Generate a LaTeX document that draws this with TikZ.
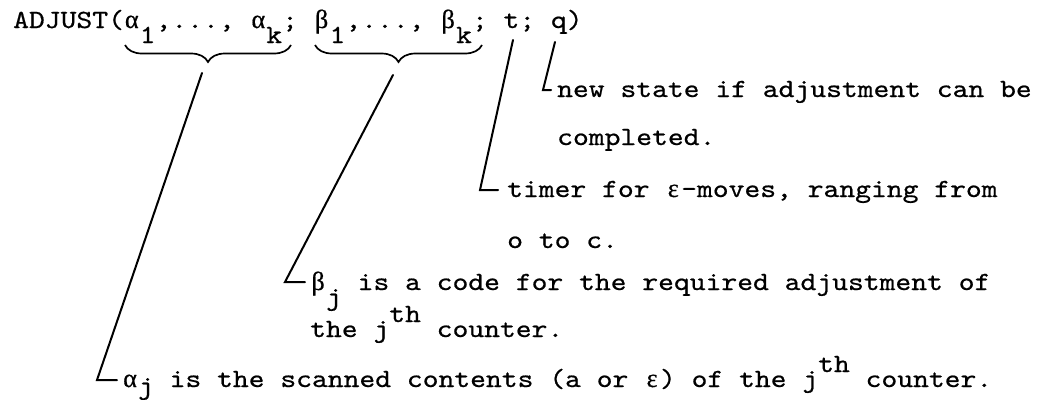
\documentclass[tikz,border=0pt]{standalone}
\usepackage{fontspec}
\setmonofont{lmmono10-regular}[Extension=.otf, FakeStretch=1.15, FakeBold=0.6]
\newfontfamily\grk{Liberation Serif}[FakeBold=0.6]
\usetikzlibrary{decorations.pathreplacing}
\newcommand\dn[1]{\raisebox{-15pt}{#1}}
\newcommand\up[1]{\raisebox{15pt}{#1}}
\newcommand\gk[1]{\makebox[\fontcharwd\font`x][c]{\grk #1}}
\frenchspacing
\tikzset{
  txt/.style={anchor=base west, inner sep=0pt, font=\ttfamily\fontsize{26.2}{30}\selectfont},
  conn/.style={line width=2pt, line cap=round, line join=miter},
  brc/.style={line width=1.7pt, decorate, decoration={brace, mirror, amplitude=17pt}}
}
\begin{document}
\begin{tikzpicture}[x=1pt, y=-1pt]
\useasboundingbox (0,0) rectangle (1044,399);
% header
\node[txt] (head) at (13,28) {ADJUST(\gk{α}\dn{1},...,\ \gk{α}\dn{k};\ \gk{β}\dn{1},...,\ \gk{β}\dn{k};\ t;\ q)};
% braces
\draw[brc] (125,45) -- (291,45);
\draw[brc] (315,45) -- (482,45);
\coordinate (atip) at (202,73);
\coordinate (btip) at (393,75);
\coordinate (ttip) at (513,40);
\coordinate (qtip) at (555,42);
% corners
\coordinate (qc) at (543,90);
\coordinate (tc) at (480,190);
\coordinate (bc) at (285,282);
\coordinate (ac) at (97,380);
% texts
\node[txt] (qtxt) at (557,97) {new state if adjustment can be};
\node[txt] (qtxt2) at (557,145) {completed.};
\node[txt] (ttxt) at (507,197) {timer for \gk{ε}-moves, ranging from};
\node[txt] (ttxt2) at (507,248) {o to c.};
\node[txt] (btxt) at (310,290) {\gk{β}\dn{j} is a code for the required adjustment of};
\node[txt] (btxt2) at (310,337) {the j\up{th} counter.};
\node[txt] (atxt) at (122,387) {\gk{α}\raisebox{-7pt}{j} is the scanned contents (a or \gk{ε}) of the j\up{th} counter.};
% connectors
\draw[conn] (qtip) -- (qc) -- ++(8,0);
\draw[conn] (ttip) -- (tc) -- ++(18,0);
\draw[conn] (btip) -- (bc) -- ++(20,0);
\draw[conn] (atip) -- (ac) -- ++(20,0);
\end{tikzpicture}
\end{document}
